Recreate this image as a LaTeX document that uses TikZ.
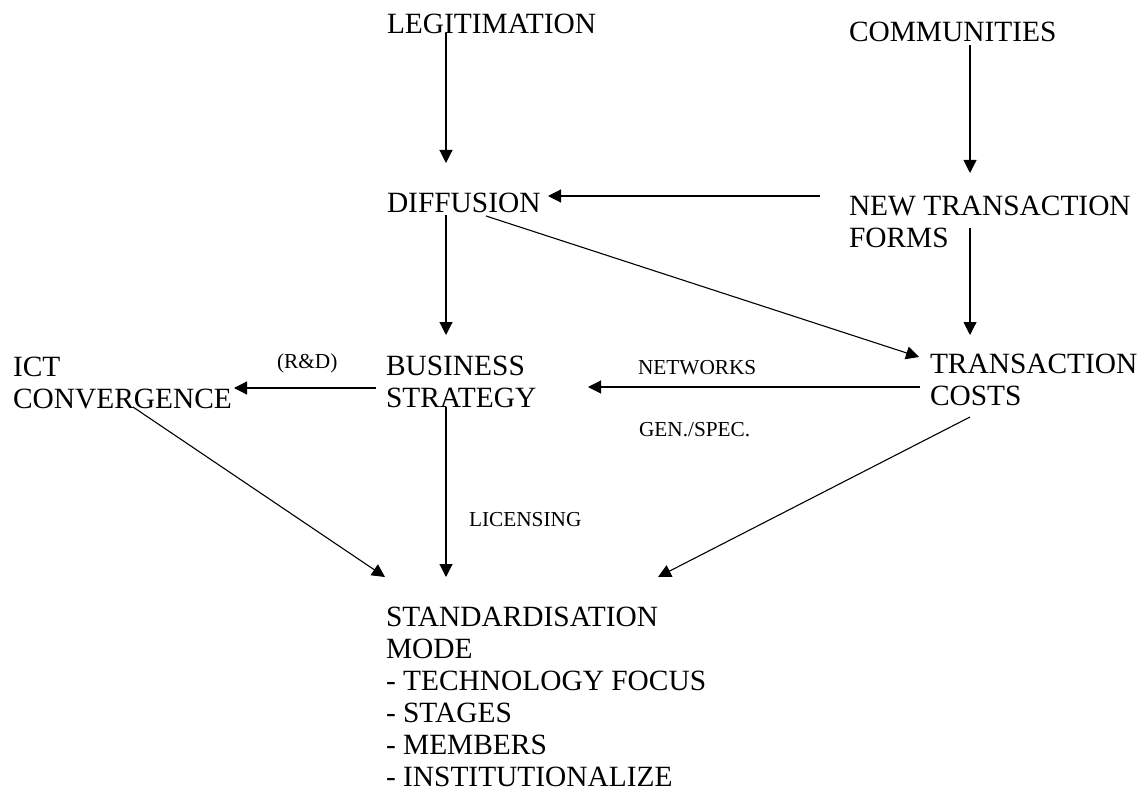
\documentclass[tikz,border=0pt]{standalone}
\usepackage{fontspec}
\setmainfont{Liberation Serif}
\usetikzlibrary{arrows.meta,calc}

\begin{document}
\begin{tikzpicture}[
  x=1pt, y=-1pt,
  concept/.style={inner sep=0pt, outer sep=0pt, align=left,
    font=\fontsize{29.4}{32}\selectfont},
  tag/.style={inner sep=0pt, outer sep=0pt,
    font=\fontsize{21.3}{24}\selectfont},
  link/.style={line width=1.1pt, -{Triangle[length=13pt,width=13pt]}}
]
\fill[white] (0,0) rectangle (1142,791);
\useasboundingbox (0,0) rectangle (1142,791);

% concepts
\node[concept, anchor=base west] (legit) at (387,34) {LEGITIMATION};
\node[concept, anchor=base west] (comm)  at (849,42) {COMMUNITIES};
\node[concept, anchor=base west] (diff)  at (387,213) {DIFFUSION};
\node[concept, anchor=north west] (ntf)  at (849,196) {NEW TRANSACTION\\FORMS};
\node[concept, anchor=north west] (tc)   at (930,354) {TRANSACTION\\COSTS};
\node[concept, anchor=north west] (bs)   at (386,356) {BUSINESS\\STRATEGY};
\node[concept, anchor=north west] (ict)  at (13,357)  {ICT\\CONVERGENCE};
\node[concept, anchor=north west] (std)  at (386,607)
  {STANDARDISATION\\MODE\\- TECHNOLOGY FOCUS\\- STAGES\\- MEMBERS\\- INSTITUTIONALIZE};

% connector labels
\node[tag, anchor=base west] (rd)   at (277,368) {(R\&D)};
\node[tag, anchor=base west] (net)  at (638,374) {NETWORKS};
\node[tag, anchor=base west] (gen)  at (639,436) {GEN./SPEC.};
\node[tag, anchor=base west] (lic)  at (469,526) {LICENSING};

% influences
\draw[link] ($(legit.base west)+(59,-1)$) -- ($(diff.base west)+(59,-50)$);
\draw[link] ($(comm.base west)+(121,3)$) -- ($(ntf.north west)+(121,-23)$);
\draw[link] ($(ntf.north west)+(-29,0)$) -- ($(diff.base west)+(161,-17)$);
\draw[link] ($(ntf.north west)+(121,32)$) -- ($(tc.north west)+(40,-19)$);
\draw[link] ($(diff.base west)+(99,3)$) -- ($(tc.north west)+(-11,3)$);
\draw[link] ($(diff.base west)+(59,2)$) -- ($(bs.north west)+(60,-21)$);
\draw[link] ($(bs.north west)+(-10,32)$) -- ($(ict.north west)+(221,31)$);
\draw[link] ($(tc.north west)+(-10,33)$) -- ($(bs.north west)+(202,31)$);
\draw[link] ($(ict.north west)+(120,50)$) -- ($(std.north west)+(-1,-30)$);
\draw[link] ($(bs.north west)+(60,51)$) -- ($(std.north west)+(60,-30)$);
\draw[link] ($(tc.north west)+(40,63)$) -- ($(std.north west)+(272,-30)$);
\end{tikzpicture}
\end{document}
